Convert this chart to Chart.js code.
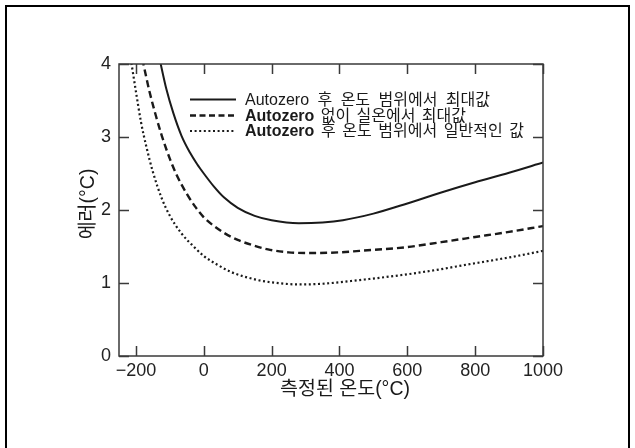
<!DOCTYPE html>
<html>
<head>
<meta charset="utf-8">
<script src="https://cdn.jsdelivr.net/npm/chart.js@4.4.1/dist/chart.umd.min.js"></script>
<style>
  html, body { margin: 0; padding: 0; background: #fff; }
  #wrap { width: 635px; height: 448px; }
</style>
</head>
<body>
<div id="wrap"><canvas id="chart" width="635" height="448"></canvas></div>
<script>
// 값은 그림에서 읽은 것 (x: 측정 온도 °C, y: 에러 °C)
const xTicks = [-200, 0, 200, 400, 600, 800, 1000];
const yTicks = [0, 1, 2, 3, 4];

const labels = [
  'Autozero 후 온도 범위에서 최대값',
  'Autozero 없이 실온에서 최대값',
  'Autozero 후 온도 범위에서 일반적인 값'
];

// 실선: Autozero 후 온도 범위에서 최대값
const maxAfterX = [-137, -127, -110, -90, -66, -40, -20, 0, 30, 60, 100, 150, 200, 280, 350, 410, 500, 600, 700, 800, 900, 1000];
const maxAfterY = [4.22, 4.0, 3.65, 3.33, 3.02, 2.78, 2.63, 2.5, 2.32, 2.17, 2.03, 1.92, 1.86, 1.82, 1.83, 1.86, 1.95, 2.09, 2.24, 2.38, 2.51, 2.65];

// 파선: Autozero 없이 실온에서 최대값
const maxRoomX = [-188, -178, -160, -140, -124, -100, -80, -50, -26, 0, 30, 62, 100, 150, 189, 250, 312, 400, 459, 596, 700, 800, 900, 1000];
const maxRoomY = [4.22, 4.0, 3.62, 3.27, 3.02, 2.7, 2.48, 2.22, 2.05, 1.9, 1.78, 1.68, 1.59, 1.51, 1.46, 1.42, 1.41, 1.42, 1.44, 1.49, 1.56, 1.63, 1.70, 1.78];

// 점선: Autozero 후 온도 범위에서 일반적인 값
const typAfterX = [-220, -213, -200, -185, -170, -150, -124, -100, -66, -30, 0, 40, 81, 150, 199, 282, 350, 459, 601, 700, 773, 900, 1000];
const typAfterY = [4.2, 4.0, 3.62, 3.2, 2.88, 2.52, 2.16, 1.92, 1.68, 1.5, 1.37, 1.25, 1.15, 1.05, 1.01, 0.98, 0.99, 1.04, 1.12, 1.19, 1.25, 1.35, 1.44];

const pts = (xs, ys) => xs.map((x, i) => ({ x: x, y: ys[i] }));

const ink = '#1a1a1a';
const axisInk = '#3a3a3a';
const latin = "'Liberation Sans', Arial, sans-serif";
const kr = "'Liberation Sans', 'Noto Sans CJK KR', sans-serif";

const dashes = [[], [7, 4], [2, 2.6]];
const widths = [2, 2.4, 2.2];

// 범례 행: y 위치와 글자 끝 x 위치
const rowY = [99.5, 115.5, 131];
const rowEnd = [490, 466, 524];

// 박스, 안쪽 눈금, 범례, 축 제목
const decor = {
  id: 'decor',
  afterDraw(chart) {
    const ctx = chart.ctx;
    const a = chart.chartArea;
    const xs = chart.scales.x, ys = chart.scales.y;
    ctx.save();

    ctx.strokeStyle = axisInk;
    ctx.lineWidth = 1.5;
    ctx.strokeRect(a.left, a.top, a.right - a.left, a.bottom - a.top);

    ctx.beginPath();
    xTicks.forEach(v => {
      const p = Math.round(xs.getPixelForValue(v)) + 0.5;
      ctx.moveTo(p, a.bottom); ctx.lineTo(p, a.bottom - 10);
      ctx.moveTo(p, a.top); ctx.lineTo(p, a.top + 10);
    });
    yTicks.forEach(v => {
      const p = Math.round(ys.getPixelForValue(v)) + 0.5;
      ctx.moveTo(a.left, p); ctx.lineTo(a.left + 10, p);
      ctx.moveTo(a.right, p); ctx.lineTo(a.right - 10, p);
    });
    ctx.stroke();

    // 범례
    ctx.fillStyle = ink;
    ctx.textBaseline = 'middle';
    ctx.textAlign = 'left';
    labels.forEach((t, i) => {
      const y = rowY[i];
      ctx.strokeStyle = ink;
      ctx.lineWidth = widths[i];
      ctx.setLineDash(i === 1 ? [6, 3.5] : dashes[i]);
      ctx.beginPath();
      ctx.moveTo(190, y); ctx.lineTo(236, y);
      ctx.stroke();
      ctx.setLineDash([]);

      const words = t.split(' ');
      const fonts = words.map((w, j) => j === 0
        ? (i > 0 ? 'bold ' : '') + '16px ' + latin
        : '16px ' + kr);
      const ws = words.map((w, j) => { ctx.font = fonts[j]; return ctx.measureText(w).width; });
      const total = ws.reduce((s, v) => s + v, 0);
      const gap = (rowEnd[i] - 245 - total) / (words.length - 1);
      let x = 245;
      words.forEach((w, j) => {
        ctx.font = fonts[j];
        ctx.fillText(w, x, y + 1);
        x += ws[j] + gap;
      });
    });

    // 축 제목
    ctx.font = '19.5px ' + kr;
    ctx.textAlign = 'center';
    ctx.fillText('측정된 온도(°C)', 345, 390);
    ctx.translate(89, 204);
    ctx.rotate(-Math.PI / 2);
    ctx.fillText('에러(°C)', 0, 0);
    ctx.restore();

    // 바깥 테두리
    ctx.save();
    ctx.strokeStyle = '#000';
    ctx.lineWidth = 2;
    ctx.beginPath();
    ctx.moveTo(6, 448); ctx.lineTo(6, 6); ctx.lineTo(629, 6); ctx.lineTo(629, 448);
    ctx.stroke();
    ctx.restore();
  }
};

new Chart(document.getElementById('chart'), {
  type: 'line',
  data: {
    datasets: [
      { label: labels[0], data: pts(maxAfterX, maxAfterY) },
      { label: labels[1], data: pts(maxRoomX, maxRoomY) },
      { label: labels[2], data: pts(typAfterX, typAfterY) }
    ].map((d, i) => Object.assign(d, {
      borderColor: ink,
      borderWidth: widths[i],
      borderDash: dashes[i],
      pointRadius: 0,
      fill: false,
      cubicInterpolationMode: 'monotone'
    }))
  },
  options: {
    responsive: false,
    animation: false,
    devicePixelRatio: 1,
    layout: { padding: { left: 0, top: 64, right: 92, bottom: 0 } },
    plugins: { legend: { display: false }, tooltip: { enabled: false } },
    scales: {
      x: {
        type: 'linear',
        min: -250, max: 1000,
        afterBuildTicks: s => { s.ticks = xTicks.map(v => ({ value: v })); },
        afterFit: s => { s.height = 92; },
        grid: { display: false, drawTicks: false },
        border: { display: false },
        ticks: {
          padding: 4,
          color: '#222',
          font: { family: latin, size: 18 },
          maxRotation: 0,
          callback: v => v < 0 ? '\u2212' + Math.abs(v) : String(v)
        }
      },
      y: {
        min: 0, max: 4,
        afterBuildTicks: s => { s.ticks = yTicks.map(v => ({ value: v })); },
        afterFit: s => { s.width = 119; },
        grid: { display: false, drawTicks: false },
        border: { display: false },
        ticks: {
          padding: 8,
          color: '#222',
          font: { family: latin, size: 18 }
        }
      }
    }
  },
  plugins: [decor]
});
</script>
</body>
</html>
